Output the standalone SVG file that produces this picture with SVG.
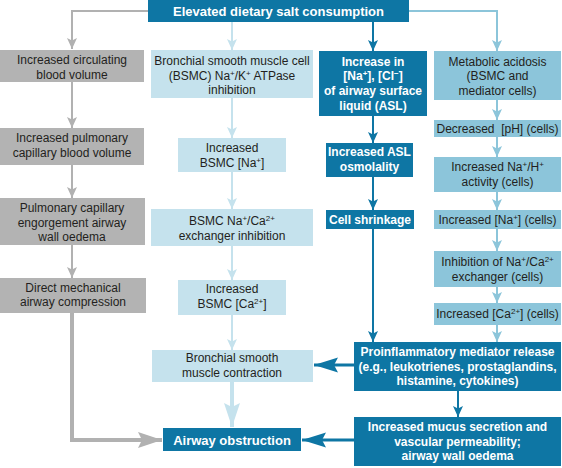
<svg xmlns="http://www.w3.org/2000/svg" width="562" height="468" viewBox="0 0 562 468">
<style>
text{font-family:"Liberation Sans",Arial,sans-serif;font-size:12px;text-anchor:middle;fill:#231f20}
.b{font-weight:bold;fill:#fff}
.t13{font-size:13px}
.gray{fill:#b3b3b3}
.lb{fill:#c5e2ed}
.mb{fill:#8cc5da}
.db{fill:#0e76a4}
.cg{stroke:#b1b1b1;fill:none}
.cl{stroke:#c5e2ed;fill:none}
.cm{stroke:#8cc5da;fill:none}
.cd{stroke:#0e76a4;fill:none}
.sup{font-size:8px}
</style>
<defs>
<marker id="ag" markerUnits="userSpaceOnUse" markerWidth="12" markerHeight="12" refX="11" refY="5.5" orient="auto"><path d="M11,5.5 L0,0.5 L2.5,5.5 L0,10.5 Z" fill="#b1b1b1"/></marker>
<marker id="al" markerUnits="userSpaceOnUse" markerWidth="12" markerHeight="12" refX="11" refY="5.5" orient="auto"><path d="M11,5.5 L0,0.5 L2.5,5.5 L0,10.5 Z" fill="#c5e2ed"/></marker>
<marker id="am" markerUnits="userSpaceOnUse" markerWidth="12" markerHeight="12" refX="11" refY="5.5" orient="auto"><path d="M11,5.5 L0,0.5 L2.5,5.5 L0,10.5 Z" fill="#8cc5da"/></marker>
<marker id="ad" markerUnits="userSpaceOnUse" markerWidth="12" markerHeight="12" refX="11" refY="5.5" orient="auto"><path d="M11,5.5 L0,0.5 L2.5,5.5 L0,10.5 Z" fill="#0e76a4"/></marker>
<marker id="bg" markerUnits="userSpaceOnUse" markerWidth="26" markerHeight="18" refX="24" refY="9" orient="auto"><path d="M24,9 L0,1 L4,9 L0,17 Z" fill="#b1b1b1"/></marker>
<marker id="bl" markerUnits="userSpaceOnUse" markerWidth="26" markerHeight="18" refX="24" refY="9" orient="auto"><path d="M24,9 L0,1 L4,9 L0,17 Z" fill="#c5e2ed"/></marker>
<marker id="bd" markerUnits="userSpaceOnUse" markerWidth="26" markerHeight="18" refX="24" refY="9" orient="auto"><path d="M24,9 L0,1.5 L4,9 L0,16.5 Z" fill="#0e76a4"/></marker>
</defs>

<g id="connectors" stroke-width="2">
<path class="cg" d="M148,11 H72 V49" marker-end="url(#ag)"/>
<path class="cg" d="M72,82 V128" marker-end="url(#ag)"/>
<path class="cg" d="M72,165 V198" marker-end="url(#ag)"/>
<path class="cg" d="M72,245 V278" marker-end="url(#ag)"/>
<path class="cg" d="M72,313 V440 H162" stroke-width="4" marker-end="url(#bg)"/>

<path class="cl" d="M232,22 V50" marker-end="url(#al)"/>
<path class="cl" d="M232,98 V138" marker-end="url(#al)"/>
<path class="cl" d="M232,172 V209" marker-end="url(#al)"/>
<path class="cl" d="M232,246 V280" marker-end="url(#al)"/>
<path class="cl" d="M232,315 V350" marker-end="url(#al)"/>
<path class="cl" d="M232,382 V427" stroke-width="4" marker-end="url(#bl)"/>

<path class="cd" d="M373,22 V51" marker-end="url(#ad)"/>
<path class="cd" d="M373,116 V143" marker-end="url(#ad)"/>
<path class="cd" d="M373,177 V210" marker-end="url(#ad)"/>
<path class="cd" d="M373,229 V342" marker-end="url(#ad)"/>
<path class="cd" d="M458,391 V417" marker-end="url(#ad)"/>
<path class="cd" d="M354,365 H314" stroke-width="3" marker-end="url(#bd)"/>
<path class="cd" d="M354,440 H302" stroke-width="3" marker-end="url(#bd)"/>

<path class="cm" d="M409,11 H497 V51" marker-end="url(#am)"/>
<path class="cm" d="M497,100 V120" marker-end="url(#am)"/>
<path class="cm" d="M497,137 V157" marker-end="url(#am)"/>
<path class="cm" d="M497,192 V210" marker-end="url(#am)"/>
<path class="cm" d="M497,229 V251" marker-end="url(#am)"/>
<path class="cm" d="M497,287 V303" marker-end="url(#am)"/>
<path class="cm" d="M497,325 V342" marker-end="url(#am)"/>
</g>

<g id="top"><rect class="db" x="148" y="0" width="261" height="22"/><text class="b t13" x="278.5" y="15.5">Elevated dietary salt consumption</text></g>

<g id="g1"><rect class="gray" x="0" y="50" width="144" height="32"/><text x="72" y="64">Increased circulating</text><text x="72" y="78.5">blood volume</text></g>
<g id="g2"><rect class="gray" x="0" y="128" width="144" height="37"/><text x="72" y="142">Increased pulmonary</text><text x="72" y="157">capillary blood volume</text></g>
<g id="g3"><rect class="gray" x="0" y="198" width="145" height="47"/><text x="72" y="212">Pulmonary capillary</text><text x="72" y="227">engorgement airway</text><text x="72" y="241">wall oedema</text></g>
<g id="g4"><rect class="gray" x="0" y="278" width="146" height="35"/><text x="73" y="291.5">Direct mechanical</text><text x="73" y="306">airway compression</text></g>

<g id="l1"><rect class="lb" x="151" y="50" width="162" height="48"/><text x="232" y="65">Bronchial smooth muscle cell</text><text x="232" y="80">(BSMC) Na<tspan class="sup" baseline-shift="super">+</tspan>/K<tspan class="sup" baseline-shift="super">+</tspan> ATPase</text><text x="232" y="94">inhibition</text></g>
<g id="l2"><rect class="lb" x="178" y="138" width="108" height="34"/><text x="232" y="152">Increased</text><text x="232" y="167">BSMC [Na<tspan class="sup" baseline-shift="super">+</tspan>]</text></g>
<g id="l3"><rect class="lb" x="151" y="209" width="162" height="37"/><text x="232" y="225">BSMC Na<tspan class="sup" baseline-shift="super">+</tspan>/Ca<tspan class="sup" baseline-shift="super">2+</tspan></text><text x="232" y="239.5">exchanger inhibition</text></g>
<g id="l4"><rect class="lb" x="178" y="280" width="108" height="35"/><text x="232" y="293">Increased</text><text x="232" y="308">BSMC [Ca<tspan class="sup" baseline-shift="super">2+</tspan>]</text></g>
<g id="l5"><rect class="lb" x="152" y="350" width="161" height="32"/><text x="232" y="362">Bronchial smooth</text><text x="232" y="377">muscle contraction</text></g>

<g id="d1"><rect class="db" x="319" y="51" width="108" height="65"/><text class="b" x="373" y="66">Increase in</text><text class="b" x="373" y="80">[Na<tspan class="sup" baseline-shift="super">+</tspan>], [Cl<tspan class="sup" baseline-shift="super">−</tspan>]</text><text class="b" x="373" y="95">of airway surface</text><text class="b" x="373" y="110">liquid (ASL)</text></g>
<g id="d2"><rect class="db" x="326" y="143" width="87" height="34"/><text class="b" x="369.5" y="156">Increased ASL</text><text class="b" x="369.5" y="171">osmolality</text></g>
<g id="d3"><rect class="db" x="326" y="210" width="88" height="19"/><text class="b" x="370" y="223.5">Cell shrinkage</text></g>

<g id="m1"><rect class="mb" x="434" y="51" width="127" height="49"/><text x="497.5" y="66">Metabolic acidosis</text><text x="497.5" y="80">(BSMC and</text><text x="497.5" y="95">mediator cells)</text></g>
<g id="m2"><rect class="mb" x="434" y="120" width="127" height="17"/><text x="497.5" y="132.5" xml:space="preserve">Decreased  [pH] (cells)</text></g>
<g id="m3"><rect class="mb" x="434" y="157" width="127" height="35"/><text x="497.5" y="171">Increased Na<tspan class="sup" baseline-shift="super">+</tspan>/H<tspan class="sup" baseline-shift="super">+</tspan></text><text x="497.5" y="186">activity (cells)</text></g>
<g id="m4"><rect class="mb" x="434" y="210" width="127" height="19"/><text x="497.5" y="224">Increased [Na<tspan class="sup" baseline-shift="super">+</tspan>] (cells)</text></g>
<g id="m5"><rect class="mb" x="434" y="251" width="127" height="36"/><text x="497.5" y="266">Inhibition of Na<tspan class="sup" baseline-shift="super">+</tspan>/Ca<tspan class="sup" baseline-shift="super">2+</tspan></text><text x="497.5" y="281">exchanger (cells)</text></g>
<g id="m6"><rect class="mb" x="434" y="303" width="127" height="22"/><text x="497.5" y="318">Increased [Ca<tspan class="sup" baseline-shift="super">2+</tspan>] (cells)</text></g>

<g id="p"><rect class="db" x="354" y="342" width="207" height="49"/><text class="b" x="457.5" y="356">Proinflammatory mediator release</text><text class="b" x="457.5" y="370.5">(e.g., leukotrienes, prostaglandins,</text><text class="b" x="457.5" y="385">histamine, cytokines)</text></g>
<g id="mu"><rect class="db" x="354" y="417" width="207" height="49"/><text class="b" x="457.5" y="431">Increased mucus secretion and</text><text class="b" x="457.5" y="446">vascular permeability;</text><text class="b" x="457.5" y="460">airway wall oedema</text></g>
<g id="ao"><rect class="db" x="163" y="428" width="138" height="23"/><text class="b t13" x="232" y="444.5">Airway obstruction</text></g>
</svg>
